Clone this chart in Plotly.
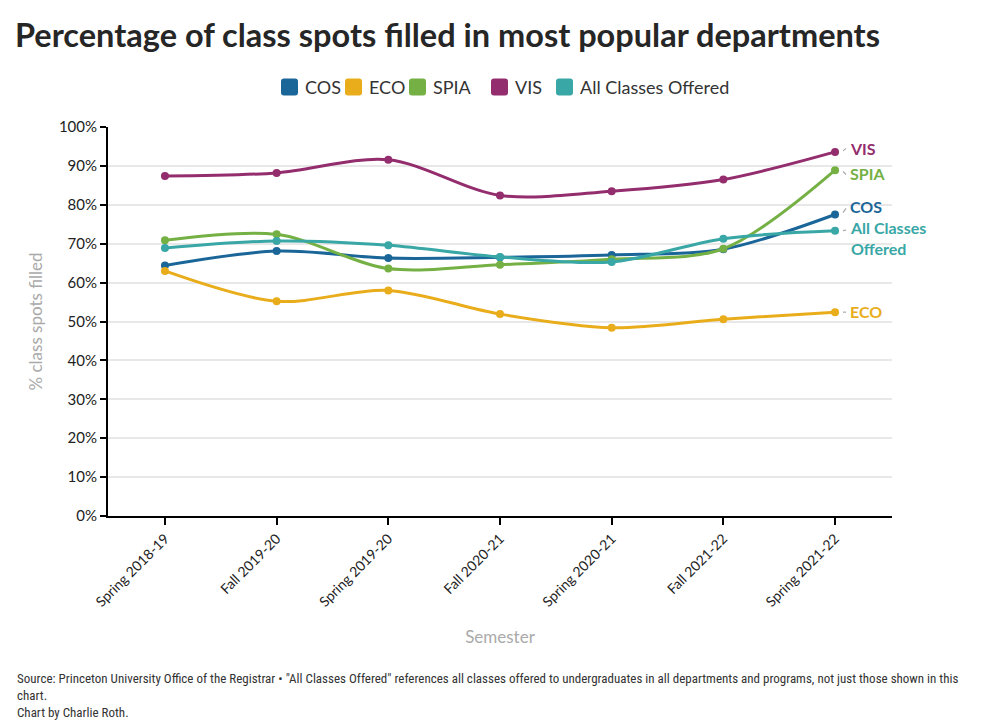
import plotly.graph_objects as go

semesters = ["Spring 2018-19", "Fall 2019-20", "Spring 2019-20", "Fall 2020-21",
             "Spring 2020-21", "Fall 2021-22", "Spring 2021-22"]
cos = [64.4, 68.1, 66.3, 66.5, 67.1, 68.6, 77.5]
eco = [63.0, 55.2, 58.0, 51.9, 48.4, 50.6, 52.4]
spia = [70.9, 72.4, 63.6, 64.6, 66.0, 68.7, 88.9]
vis = [87.4, 88.2, 91.6, 82.4, 83.5, 86.5, 93.6]
all_classes = [68.9, 70.7, 69.6, 66.6, 65.3, 71.3, 73.3]

series_names = ["COS", "ECO", "SPIA", "VIS", "All Classes Offered"]
series_values = [cos, eco, spia, vis, all_classes]
colors = ["#1a6699", "#e9ad1c", "#75b044", "#932d6e", "#38a7a6"]

FONT = "Lato"
PLOT_L, PLOT_W, PLOT_B, PLOT_H = 108, 784, 516, 389


def px_x(px):
    return (px - PLOT_L) / PLOT_W


def px_y(py):
    return (PLOT_B - py) / PLOT_H


fig = go.Figure()
for name, vals, col in zip(series_names, series_values, colors):
    fig.add_trace(go.Scatter(
        x=semesters, y=vals, mode="lines+markers", name=name,
        line=dict(color=col, width=3, shape="spline", smoothing=0.9),
        marker=dict(color=col, size=8),
        showlegend=False, cliponaxis=False,
    ))

# End-of-line labels: (series index, text, nudge in % units)
end_label_lines = [(3, "VIS", 0.95), (2, "SPIA", -0.85), (0, "COS", 2.05),
                   (4, "All Classes<br>Offered", -1.8), (1, "ECO", 0.25)]
for idx, txt, nud in end_label_lines:
    fig.add_annotation(
        x=semesters[-1], y=series_values[idx][-1] + nud, text=f"<b>{txt}</b>",
        xref="x", yref="y", showarrow=False, xanchor="left", yanchor="middle",
        xshift=13, align="left",
        font=dict(family=FONT, size=16, color=colors[idx]),
    )

# small grey connectors between last point and its label
connector_nudge = [1.6, 0.0, -1.1, 0.9, 0.2]
for vals, nud in zip(series_values, connector_nudge):
    fig.add_shape(type="line", xref="x", yref="y", xsizemode="pixel",
                  xanchor=len(semesters) - 1, x0=8, x1=11,
                  y0=vals[-1] + 0.3 * nud, y1=vals[-1] + nud,
                  line=dict(color="#aaaaaa", width=1.2))

# Manual legend with rounded swatches
legend_swatch_px = [281, 345, 409, 491, 556]
legend_y = px_y(87)
r = 3
s = 17
h = s / 2
rounded = (f"M {r},{-h} L {s-r},{-h} Q {s},{-h} {s},{-h+r} L {s},{h-r} Q {s},{h} {s-r},{h} "
           f"L {r},{h} Q 0,{h} 0,{h-r} L 0,{-h+r} Q 0,{-h} {r},{-h} Z")
for name, col, sx in zip(series_names, colors, legend_swatch_px):
    fig.add_shape(type="path", xref="paper", yref="paper",
                  xsizemode="pixel", ysizemode="pixel",
                  xanchor=px_x(sx), yanchor=legend_y, path=rounded,
                  fillcolor=col, line=dict(width=0))
    fig.add_annotation(xref="paper", yref="paper", x=px_x(sx + s + 5), y=legend_y,
                       xanchor="left", yanchor="middle", showarrow=False, text=name,
                       font=dict(family=FONT, size=18, color="#333"))

fig.update_layout(
    width=1000, height=722,
    paper_bgcolor="white", plot_bgcolor="white",
    margin=dict(l=108, r=108, t=127, b=206),
    font=dict(family=FONT, color="#222"),
    title=dict(text="<b>Percentage of class spots filled in most popular departments</b>",
               x=0.015, xanchor="left", y=0.951, yanchor="middle",
               font=dict(family=FONT, size=32.5, color="#262626")),
    showlegend=False,
)
fig.update_xaxes(
    type="category", range=[-0.51, 6.51],
    showline=True, linecolor="black", linewidth=2,
    ticks="outside", ticklen=7, tickcolor="black", tickwidth=1.5,
    tickangle=-45, tickfont=dict(family=FONT, size=14, color="#222"),
    showgrid=False,
    title=dict(text="Semester", font=dict(family=FONT, size=17, color="#aaaaaa"), standoff=22),
)
fig.update_yaxes(
    range=[0, 100], dtick=10, ticksuffix="%",
    showline=True, linecolor="black", linewidth=2,
    ticks="outside", ticklen=6, tickcolor="black", tickwidth=1.5,
    tickfont=dict(family=FONT, size=15, color="#222"),
    showgrid=True, gridcolor="#e8e8e8", gridwidth=2, zeroline=False,
    title=dict(text="% class spots filled", font=dict(family=FONT, size=17, color="#aaaaaa"), standoff=12),
)

fig.add_annotation(
    xref="paper", yref="paper", x=px_x(15), y=px_y(669), xanchor="left", yanchor="top",
    showarrow=False, align="left",
    text=('Source: Princeton University Office of the Registrar \u2022 "All Classes Offered" references all classes '
          'offered to undergraduates in all departments and programs, not just those shown in this<br>chart.<br>'
          'Chart by Charlie Roth.'),
    font=dict(family="Roboto Condensed, Lato", size=13, color="#333"),
)

fig.write_html("out.html", post_script="document.body.style.margin='0';",
               config={"displayModeBar": False})
